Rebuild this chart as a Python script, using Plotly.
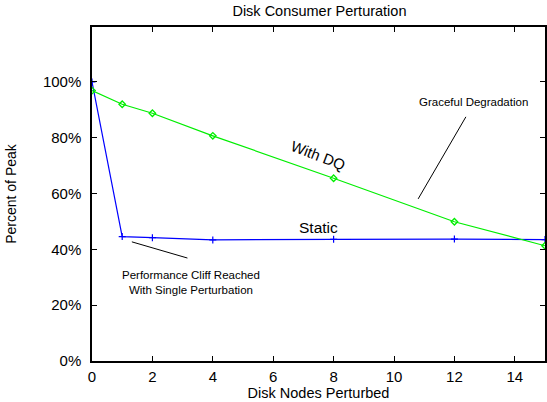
import plotly.graph_objects as go

nodes = [0, 1, 2, 4, 8, 12, 15]
static_pct = [100, 44.6, 44.2, 43.4, 43.6, 43.7, 43.5]
dq_nodes = [0, 1, 2, 4, 8, 12, 15]
dq_pct = [96.9, 92.0, 88.8, 80.7, 65.5, 49.9, 41.3]
x_ticks = [0, 2, 4, 6, 8, 10, 12, 14]
y_ticks = [0, 20, 40, 60, 80, 100]
y_tick_text = ["0%", "20%", "40%", "60%", "80%", "100%"]

FONT = "Liberation Sans, Arial, Helvetica, sans-serif"

fig = go.Figure()
fig.add_trace(go.Scatter(
    x=nodes, y=static_pct, mode="lines+markers", name="Static",
    line=dict(color="#0000ff", width=1.2),
    marker=dict(symbol="cross-thin", size=5, line=dict(color="#0000ff", width=1.2)),
    cliponaxis=True,
))
fig.add_trace(go.Scatter(
    x=dq_nodes, y=dq_pct, mode="lines+markers", name="With DQ",
    line=dict(color="#00ee00", width=1.2),
    marker=dict(symbol="diamond-open", size=5, color="#00ee00", line=dict(width=1.3)),
    cliponaxis=True,
))

axis_common = dict(
    showgrid=False, zeroline=False, showline=True, linecolor="black", linewidth=1.5,
    mirror="allticks", ticks="inside", ticklen=5, tickwidth=1, tickcolor="black",
    tickfont=dict(family=FONT, size=15, color="black"),
)
fig.update_xaxes(range=[0, 15], tickvals=x_ticks, ticklabelstandoff=1,
                 title=dict(text="Disk Nodes Perturbed", font=dict(family=FONT, size=14.5, color="black"), standoff=0),
                 **axis_common)
fig.update_yaxes(range=[0, 119.7], tickvals=y_ticks, ticktext=y_tick_text, ticklabelstandoff=6,
                 title=dict(text="Percent of Peak", font=dict(family=FONT, size=14, color="black"), standoff=23),
                 **axis_common)

ann_font = dict(family=FONT, size=11.5, color="black")
fig.add_annotation(x=12.62, y=92.8, text="Graceful Degradation", showarrow=False, font=ann_font)
fig.add_annotation(x=3.29, y=28.0, text="Performance Cliff Reached<br>With Single Perturbation",
                   showarrow=False, font=ann_font)
fig.add_annotation(x=7.51, y=73.8, text="With DQ", showarrow=False, textangle=21,
                   font=dict(family=FONT, size=15, color="black"))
fig.add_annotation(x=7.51, y=48.0, text="Static", showarrow=False,
                   font=dict(family=FONT, size=15.5, color="black"))
fig.add_shape(type="line", x0=12.38, y0=87.5, x1=10.80, y1=58.1, line=dict(color="black", width=1))
fig.add_shape(type="line", x0=1.32, y0=42.7, x1=3.16, y1=36.9, line=dict(color="black", width=1))

fig.update_layout(
    width=547, height=402,
    margin=dict(l=92, r=0, t=27, b=41),
    paper_bgcolor="white", plot_bgcolor="white",
    showlegend=False,
    title=dict(text="Disk Consumer Perturation", x=0.584, xanchor="center", y=1 - 11 / 402, yanchor="middle",
               font=dict(family=FONT, size=14.5, color="black")),
)

fig.write_html("out.html")
